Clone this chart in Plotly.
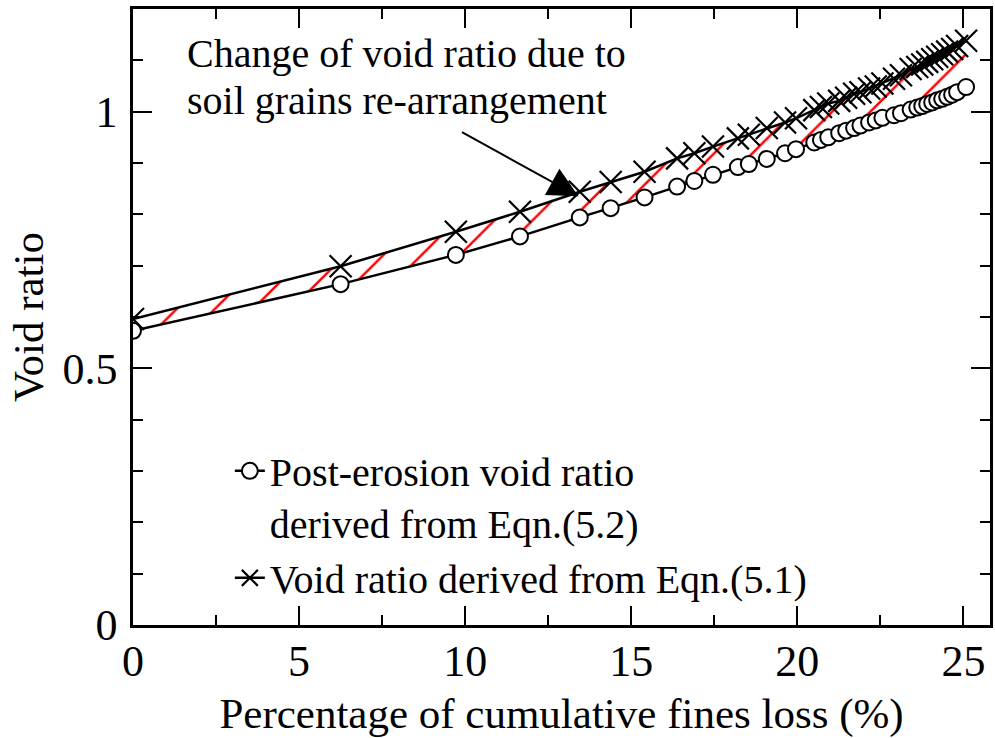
import plotly.graph_objects as go

# ---- data ----
fines_loss = [0, 6.25, 9.72, 11.65, 13.45, 14.38, 15.4, 16.38, 16.9, 17.46, 18.21, 18.54,
              19.08, 19.63, 19.96, 20.51, 20.71, 20.93, 21.26, 21.47, 21.71, 21.9, 22.16,
              22.36, 22.56, 22.91, 23.12, 23.41, 23.61, 23.76, 23.91, 24.06, 24.21, 24.36,
              24.51, 24.66, 24.81, 25.08]

void_post_erosion = [0.573, 0.664, 0.721, 0.757, 0.794, 0.812, 0.833, 0.854, 0.865, 0.877,
                     0.892, 0.898, 0.908, 0.919, 0.927, 0.940, 0.945, 0.950, 0.958, 0.963,
                     0.968, 0.973, 0.979, 0.983, 0.988, 0.993, 0.997, 1.004, 1.008, 1.011,
                     1.015, 1.018, 1.022, 1.025, 1.029, 1.033, 1.038, 1.048]

void_eqn51 = [0.596, 0.699, 0.766, 0.805, 0.844, 0.863, 0.883, 0.909, 0.919, 0.932,
              0.948, 0.955, 0.968, 0.979, 0.987, 1.003, 1.009, 1.016, 1.021, 1.027,
              1.035, 1.038, 1.045, 1.049, 1.055, 1.064, 1.071, 1.083, 1.087, 1.092,
              1.097, 1.102, 1.107, 1.112, 1.117, 1.122, 1.128, 1.138]

name_post = "Post-erosion void ratio<br>derived from Eqn.(5.2)"
name_eqn = "Void ratio derived from Eqn.(5.1)"
note_lines = ["Change of void ratio due to", "soil grains re-arrangement"]
arrow_x, arrow_y = 13.41, 0.835

FONT = "Liberation Serif"

fig = go.Figure()

# hatched band between the two curves
fig.add_trace(go.Scatter(x=fines_loss, y=void_post_erosion, mode="lines",
                         line=dict(width=0, color="rgba(0,0,0,0)"),
                         showlegend=False, hoverinfo="skip"))
fig.add_trace(go.Scatter(x=fines_loss, y=void_eqn51, mode="lines",
                         line=dict(width=0, color="rgba(0,0,0,0)"),
                         fill="tonexty", fillcolor="rgba(0,0,0,0)",
                         fillpattern=dict(shape="/", fgcolor="#ff0000", fgopacity=1,
                                          bgcolor="rgba(0,0,0,0)",
                                          size=27, solidity=0.09),
                         showlegend=False, hoverinfo="skip"))

fig.add_trace(go.Scatter(x=fines_loss, y=void_post_erosion, mode="lines+markers",
                         name=name_post,
                         line=dict(color="black", width=2.5),
                         marker=dict(symbol="circle", size=16, color="white",
                                     line=dict(color="black", width=2))))
fig.add_trace(go.Scatter(x=fines_loss, y=void_eqn51, mode="lines+markers",
                         name=name_eqn,
                         line=dict(color="black", width=2.5),
                         marker=dict(symbol="x-thin", size=22,
                                     line=dict(color="black", width=2.2))))

# annotation text + arrow
fig.add_annotation(xref="paper", yref="paper", x=0.0605, y=0.927, xanchor="left",
                   yanchor="middle", text=note_lines[0], showarrow=False,
                   font=dict(family=FONT, size=40, color="black"))
fig.add_annotation(xref="paper", yref="paper", x=0.0605, y=0.852, xanchor="left",
                   yanchor="middle", text=note_lines[1], showarrow=False,
                   font=dict(family=FONT, size=40, color="black"))
fig.add_annotation(x=arrow_x, y=arrow_y, text="", showarrow=True,
                   ax=-118, ay=-65, arrowhead=2, arrowsize=3, arrowwidth=2,
                   arrowcolor="black", standoff=0)

axis_common = dict(showline=True, linecolor="black", linewidth=2.5, mirror="allticks",
                   ticks="inside", tickcolor="black", tickwidth=2, ticklen=19,
                   showgrid=False, zeroline=False,
                   tickfont=dict(family=FONT, size=44, color="black"))

fig.update_xaxes(range=[0, 25.8], dtick=5, tick0=0,
                 minor=dict(dtick=2.5, ticks="inside", ticklen=10, tickcolor="black",
                            tickwidth=2, showgrid=False),
                 ticklabelstandoff=-5,
                 title=dict(text="Percentage of cumulative fines loss (%)",
                            font=dict(family=FONT, size=43, color="black"), standoff=15),
                 **axis_common)
fig.update_yaxes(range=[0, 1.2], dtick=0.5, tick0=0,
                 minor=dict(dtick=0.1, ticks="inside", ticklen=10, tickcolor="black",
                            tickwidth=2, showgrid=False),
                 ticklabelstandoff=4,
                 title=dict(text="Void ratio",
                            font=dict(family=FONT, size=43, color="black"), standoff=6),
                 **axis_common)

fig.update_layout(
    width=995, height=738,
    margin=dict(l=133, r=2, t=9, b=113),
    paper_bgcolor="white", plot_bgcolor="white",
    showlegend=True,
    legend=dict(x=0.113, y=0.303, xanchor="left", yanchor="top",
                bgcolor="rgba(0,0,0,0)", borderwidth=0, valign="top",
                traceorder="normal",
                font=dict(family=FONT, size=40, color="black"),
                tracegroupgap=0, itemclick=False),
)

fig.write_html("out.html", config={"displayModeBar": False},
               post_script="document.body.style.margin='0';document.body.style.overflow='hidden';")
